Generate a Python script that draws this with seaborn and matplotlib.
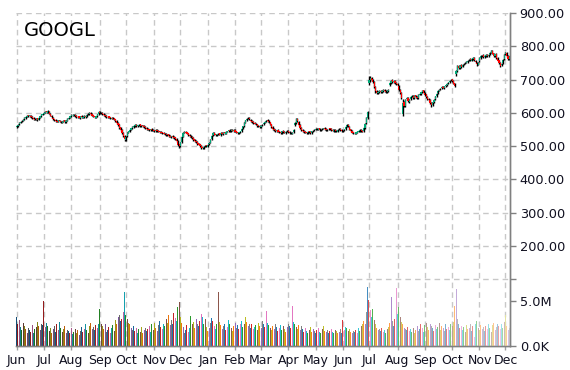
import numpy as np
import pandas as pd
import seaborn as sns
import matplotlib.pyplot as plt

ticker = 'GOOGL'

month_labels = ['Jun', 'Jul', 'Aug', 'Sep', 'Oct', 'Nov', 'Dec', 'Jan', 'Feb', 'Mar',
                'Apr', 'May', 'Jun', 'Jul', 'Aug', 'Sep', 'Oct', 'Nov', 'Dec']
month_pos = [0, 21, 42, 64, 84, 106, 126, 147, 168, 188, 209, 230, 251, 271, 293, 314, 335, 356, 376]

price_ticks = [100, 200, 300, 400, 500, 600, 700, 800, 900]
vol_ticks = [0.0, 5.0]
vol_tick_labels = ['0.0K', '5.0M']

# daily candles, Jun 2014 - Dec 2015
opens = [
    558, 562, 566, 571, 575, 577, 581, 586, 589, 593, 590, 592, 588, 585, 583, 580, 584, 580, 586, 591,
    595, 598, 601, 605, 601, 604, 597, 592, 586, 581, 580, 576, 574, 578, 575, 571, 574, 578, 572, 577,
    583, 586, 591, 595, 592, 594, 591, 587, 590, 585, 591, 586, 588, 592, 589, 596, 596, 601, 597, 593,
    590, 586, 591, 597, 603, 601, 600, 598, 595, 591, 587, 590, 587, 583, 586, 584, 581, 576, 571, 566,
    557, 550, 541, 532, 520, 530, 541, 544, 550, 555, 557, 561, 565, 560, 562, 566, 560, 563, 561, 558,
    556, 553, 551, 548, 552, 549, 548, 545, 550, 547, 545, 544, 542, 541, 539, 537, 533, 536, 532, 528,
    531, 528, 527, 522, 516, 506, 501, 513, 529, 541, 544, 542, 539, 535, 531, 529, 526, 521, 517, 513,
    509, 506, 501, 497, 494, 500, 503, 499, 506, 511, 521, 533, 541, 536, 533, 537, 539, 534, 541, 537,
    542, 538, 544, 546, 549, 545, 550, 546, 550, 545, 542, 539, 543, 546, 553, 561, 571, 579, 584, 586,
    580, 577, 573, 571, 569, 566, 562, 561, 557, 563, 566, 571, 575, 579, 577, 572, 566, 559, 553, 550,
    545, 549, 545, 543, 539, 546, 544, 540, 545, 547, 543, 541, 538, 542, 565, 571, 583, 574, 564, 556,
    550, 547, 544, 542, 539, 545, 543, 539, 546, 548, 550, 553, 550, 554, 548, 551, 553, 555, 552, 548,
    551, 554, 552, 549, 546, 550, 547, 544, 551, 553, 549, 545, 548, 552, 559, 565, 559, 551, 546, 542,
    541, 538, 541, 544, 546, 550, 547, 545, 556, 569, 586, 690, 698, 706, 701, 692, 679, 667, 660, 662,
    667, 663, 666, 669, 666, 662, 666, 684, 691, 698, 692, 696, 691, 687, 682, 669, 660, 598, 632, 620,
    641, 646, 634, 641, 649, 651, 645, 653, 649, 644, 655, 657, 663, 668, 661, 656, 649, 643, 639, 631,
    624, 633, 641, 651, 659, 667, 671, 674, 679, 675, 681, 684, 689, 693, 698, 701, 696, 689, 718, 726,
    741, 736, 743, 739, 746, 749, 751, 753, 758, 761, 757, 763, 766, 757, 751, 745, 755, 766, 771, 773,
    767, 770, 775, 771, 776, 781, 787, 779, 771, 777, 766, 758, 751, 743, 749, 762, 776, 781, 771, 762,
]
highs = [
    563, 567, 572, 576, 579, 582, 587, 590, 594, 595, 595, 594, 590, 587, 585, 585, 586, 587, 592, 598,
    599, 602, 606, 607, 608, 606, 599, 594, 588, 583, 582, 578, 580, 580, 577, 576, 579, 580, 578, 584,
    587, 592, 596, 597, 596, 596, 593, 591, 592, 592, 593, 591, 593, 594, 597, 599, 603, 603, 599, 595,
    592, 592, 598, 605, 606, 603, 602, 600, 597, 593, 591, 592, 589, 587, 588, 586, 583, 578, 573, 568,
    559, 552, 543, 534, 531, 542, 547, 551, 556, 560, 564, 566, 567, 565, 567, 568, 564, 565, 563, 560,
    558, 555, 553, 553, 554, 551, 550, 551, 552, 549, 547, 546, 544, 543, 541, 539, 537, 538, 534, 532,
    533, 530, 529, 524, 518, 508, 514, 530, 542, 546, 546, 544, 541, 537, 533, 531, 528, 523, 519, 515,
    511, 508, 503, 499, 501, 504, 505, 507, 512, 522, 534, 543, 543, 538, 538, 540, 541, 542, 543, 543,
    544, 545, 547, 550, 551, 551, 552, 551, 552, 547, 544, 544, 547, 554, 562, 572, 580, 585, 588, 588,
    582, 579, 575, 573, 571, 568, 564, 563, 564, 567, 572, 576, 580, 581, 579, 574, 568, 561, 555, 552,
    550, 551, 547, 545, 547, 548, 546, 546, 548, 549, 545, 543, 543, 552, 573, 586, 585, 576, 566, 558,
    552, 549, 546, 544, 546, 547, 545, 547, 549, 551, 554, 555, 555, 556, 552, 554, 556, 557, 554, 552,
    555, 556, 554, 551, 551, 552, 549, 552, 554, 555, 551, 549, 553, 560, 567, 568, 561, 553, 548, 544,
    543, 544, 547, 549, 551, 552, 549, 557, 570, 588, 606, 712, 712, 708, 703, 695, 681, 669, 665, 668,
    670, 669, 671, 671, 668, 669, 671, 694, 700, 701, 698, 699, 694, 690, 685, 672, 662, 641, 636, 643,
    648, 649, 642, 650, 653, 653, 654, 655, 651, 656, 660, 664, 669, 670, 663, 658, 651, 645, 641, 633,
    634, 642, 652, 660, 668, 672, 675, 680, 681, 682, 685, 690, 694, 699, 703, 703, 698, 691, 730, 745,
    744, 745, 746, 747, 750, 753, 755, 760, 763, 764, 764, 768, 769, 760, 754, 752, 767, 773, 775, 776,
    773, 777, 777, 778, 783, 790, 789, 781, 778, 779, 768, 760, 753, 750, 762, 778, 783, 783, 773, 770,
]
lows = [
    555, 559, 564, 569, 572, 575, 579, 583, 587, 588, 588, 585, 582, 580, 578, 578, 577, 578, 584, 589,
    593, 596, 599, 600, 599, 596, 590, 585, 579, 577, 574, 572, 572, 573, 570, 569, 572, 571, 570, 575,
    581, 584, 589, 591, 590, 588, 586, 585, 584, 583, 585, 584, 586, 586, 587, 594, 594, 594, 590, 587,
    585, 584, 589, 595, 598, 597, 595, 592, 588, 586, 585, 584, 582, 581, 581, 578, 573, 567, 562, 552,
    546, 537, 527, 516, 517, 528, 539, 542, 548, 553, 555, 559, 559, 558, 560, 559, 558, 558, 555, 553,
    550, 548, 547, 546, 546, 545, 544, 543, 544, 542, 541, 539, 538, 536, 534, 532, 531, 529, 527, 526,
    525, 523, 519, 512, 502, 495, 499, 511, 527, 539, 539, 536, 532, 528, 526, 522, 517, 513, 509, 505,
    503, 498, 493, 491, 492, 498, 498, 497, 504, 509, 519, 531, 533, 532, 531, 535, 533, 532, 536, 535,
    537, 536, 542, 544, 544, 543, 545, 544, 542, 539, 538, 537, 541, 544, 551, 559, 569, 577, 582, 579,
    574, 570, 568, 566, 564, 559, 558, 555, 555, 561, 564, 569, 573, 574, 570, 563, 556, 550, 547, 544,
    543, 542, 540, 538, 537, 541, 539, 538, 543, 540, 538, 537, 536, 540, 562, 568, 573, 561, 553, 547,
    544, 541, 539, 538, 537, 540, 538, 537, 544, 546, 548, 549, 548, 547, 546, 549, 551, 549, 547, 546,
    549, 549, 546, 545, 544, 544, 543, 542, 549, 546, 544, 543, 546, 550, 557, 558, 548, 543, 539, 538,
    536, 536, 539, 542, 544, 544, 542, 543, 553, 566, 583, 683, 694, 697, 689, 675, 660, 657, 656, 659,
    661, 660, 663, 663, 660, 659, 663, 681, 688, 690, 689, 687, 683, 680, 665, 656, 642, 590, 618, 617,
    638, 632, 631, 639, 647, 643, 643, 646, 642, 642, 653, 655, 661, 658, 652, 645, 640, 637, 627, 618,
    622, 631, 639, 649, 657, 665, 669, 672, 674, 673, 679, 682, 687, 691, 696, 693, 686, 677, 712, 723,
    732, 733, 736, 737, 744, 747, 749, 751, 756, 755, 755, 760, 756, 749, 740, 743, 752, 763, 768, 765,
    765, 768, 767, 769, 774, 779, 776, 769, 769, 763, 755, 747, 738, 741, 747, 760, 774, 768, 760, 760,
]
closes = [
    561, 565, 570, 574, 576, 580, 585, 588, 592, 590, 593, 587, 584, 582, 580, 583, 579, 585, 590, 596,
    597, 600, 604, 602, 605, 598, 592, 587, 581, 579, 576, 574, 578, 575, 572, 574, 577, 573, 576, 582,
    585, 590, 594, 593, 594, 590, 588, 589, 586, 590, 587, 589, 591, 588, 595, 597, 600, 596, 592, 589,
    587, 590, 596, 602, 600, 599, 597, 594, 590, 588, 589, 586, 584, 585, 583, 580, 575, 570, 565, 556,
    549, 540, 530, 522, 528, 540, 545, 549, 554, 558, 562, 564, 561, 563, 565, 561, 562, 560, 557, 555,
    552, 550, 549, 551, 548, 547, 546, 549, 546, 544, 543, 541, 540, 538, 536, 534, 535, 531, 529, 530,
    527, 526, 522, 515, 505, 500, 512, 528, 540, 543, 541, 538, 534, 530, 528, 525, 520, 516, 512, 508,
    505, 500, 496, 495, 499, 502, 500, 505, 510, 520, 532, 540, 535, 534, 536, 538, 535, 540, 538, 541,
    539, 543, 545, 548, 546, 549, 547, 549, 544, 541, 540, 542, 545, 552, 560, 570, 578, 583, 585, 581,
    576, 572, 570, 568, 566, 561, 560, 558, 562, 565, 570, 574, 578, 576, 572, 565, 558, 552, 549, 546,
    548, 544, 542, 540, 545, 543, 541, 544, 546, 542, 540, 539, 541, 550, 570, 582, 575, 563, 555, 549,
    546, 543, 541, 540, 544, 542, 540, 545, 547, 549, 552, 551, 553, 549, 550, 552, 554, 551, 549, 550,
    553, 551, 548, 547, 549, 546, 545, 550, 552, 548, 546, 547, 551, 558, 564, 560, 550, 545, 541, 540,
    539, 542, 545, 547, 549, 546, 544, 555, 568, 585, 603, 699, 705, 700, 693, 678, 665, 661, 663, 666,
    664, 667, 668, 665, 663, 667, 669, 690, 697, 693, 695, 690, 686, 683, 668, 660, 645, 630, 622, 640,
    645, 635, 640, 648, 650, 646, 652, 648, 645, 654, 658, 662, 667, 660, 655, 648, 642, 640, 630, 625,
    632, 640, 650, 658, 666, 670, 673, 678, 676, 680, 683, 688, 692, 697, 700, 695, 688, 680, 725, 740,
    735, 742, 738, 745, 748, 750, 752, 757, 760, 758, 762, 765, 758, 752, 746, 750, 765, 770, 772, 768,
    771, 774, 770, 775, 780, 786, 778, 772, 776, 765, 757, 750, 742, 748, 760, 775, 780, 770, 763, 767,
]
# volume in millions of shares
volume_m = [
    3.2, 2.4, 2.9, 2.1, 1.8, 2.6, 2.2, 1.9, 1.5, 2.0, 1.8, 1.6, 2.3, 1.4, 1.9, 2.1, 2.7, 2.2, 1.8, 2.5,
    2.3, 5.0, 2.1, 2.6, 2.2, 1.7, 2.0, 1.5, 1.9, 2.2, 1.6, 2.4, 1.8, 2.7, 2.0, 1.6, 1.9, 2.2, 1.5, 1.8,
    1.7, 1.4, 2.0, 1.3, 1.6, 1.9, 1.5, 1.8, 1.2, 1.7, 2.1, 1.6, 1.9, 2.4, 1.8, 1.5, 2.2, 2.6, 1.9, 2.1,
    1.8, 2.3, 2.0, 2.5, 4.1, 2.4, 2.2, 1.9, 2.5, 1.6, 1.8, 2.1, 1.5, 2.0, 2.3, 1.7, 2.9, 2.4, 3.2, 3.5,
    2.8, 3.0, 3.8, 6.0, 3.4, 3.0, 2.6, 2.4, 2.0, 1.8, 2.2, 1.7, 2.0, 1.5, 1.9, 1.6, 2.1, 1.4, 1.8, 2.0,
    1.7, 1.9, 2.2, 1.6, 2.4, 1.8, 2.6, 2.0, 1.7, 2.3, 2.8, 2.1, 1.9, 2.5, 2.2, 3.0, 2.6, 3.4, 2.3, 2.9,
    2.5, 3.7, 3.1, 2.8, 4.3, 4.9, 3.2, 2.6, 2.1, 1.4, 1.8, 2.3, 1.6, 2.0, 3.3, 2.4, 2.7, 2.0, 3.0, 2.5,
    2.2, 2.8, 3.6, 3.2, 2.4, 3.0, 2.1, 1.7, 2.0, 2.6, 3.1, 2.8, 2.2, 1.9, 2.4, 6.0, 2.7, 2.3, 1.9, 2.2,
    2.5, 1.8, 2.1, 2.9, 2.4, 2.0, 1.7, 2.2, 2.6, 2.0, 2.3, 1.9, 2.5, 2.8, 2.1, 2.4, 3.2, 2.7, 2.2, 2.5,
    2.0, 2.4, 1.9, 2.1, 2.3, 1.8, 2.6, 2.2, 2.0, 2.8, 2.4, 2.1, 3.9, 2.6, 2.3, 2.0, 1.8, 2.2, 1.9, 2.4,
    2.1, 1.7, 2.0, 2.3, 1.8, 2.2, 1.9, 1.6, 2.1, 2.5, 2.2, 2.0, 4.5, 2.7, 2.4, 2.1, 1.9, 2.3, 1.8, 2.2,
    1.9, 1.6, 2.0, 1.7, 1.5, 1.8, 2.1, 1.6, 1.9, 1.7, 1.4, 1.8, 2.0, 1.6, 1.5, 1.9, 2.2, 1.7, 1.6, 1.8,
    1.5, 1.7, 1.9, 1.6, 1.4, 1.8, 1.7, 1.5, 1.6, 1.9, 1.4, 2.9, 1.8, 2.1, 2.0, 1.7, 1.9, 1.6, 1.5, 1.7,
    1.6, 1.8, 1.5, 2.0, 1.7, 2.2, 2.5, 2.8, 2.4, 3.8, 6.6, 5.1, 4.0, 3.2, 4.1, 2.9, 2.4, 2.0, 1.8, 1.9,
    1.7, 2.0, 1.6, 1.8, 1.5, 1.9, 2.1, 2.6, 5.4, 2.8, 2.2, 3.0, 6.5, 3.6, 4.3, 3.2, 2.7, 2.4, 2.0, 1.9,
    1.8, 2.1, 1.7, 1.9, 1.6, 2.0, 1.5, 1.8, 2.2, 1.7, 1.9, 2.4, 2.0, 1.6, 2.3, 2.6, 2.1, 1.8, 2.5, 2.2,
    2.0, 1.7, 2.3, 1.9, 2.1, 2.6, 1.8, 2.2, 2.0, 1.7, 2.4, 1.9, 2.1, 1.8, 2.5, 2.2, 2.7, 4.5, 6.3, 3.0,
    2.4, 2.0, 2.2, 1.8, 2.1, 1.6, 2.3, 1.9, 2.0, 2.5, 1.7, 2.2, 1.0, 2.4, 2.8, 2.0, 1.8, 2.3, 1.9, 2.1,
    1.7, 2.2, 1.9, 2.4, 2.0, 1.6, 2.3, 2.6, 1.8, 2.1, 2.5, 2.2, 1.9, 2.4, 2.0, 2.7, 3.4, 2.2, 1.8, 2.0,
]

df = pd.DataFrame({'open': opens, 'high': highs, 'low': lows, 'close': closes, 'volume': volume_m})
df['day'] = np.arange(len(df))
df['up'] = df['close'] >= df['open']

sns.set_theme(style='white')
plt.rcParams['font.family'] = ['DejaVu Sans']

fig = plt.figure(figsize=(5.7, 3.7), dpi=100)
ax = fig.add_axes([16 / 570, 24 / 370, 494 / 570, 333 / 370])

# volume colours: cycling palette, darker at the start, washed out at the end
base = sns.color_palette('tab10', 10)
n = len(df)
vol_colors = []
for i in range(n):
    t = i / (n - 1)
    c = np.array(base[(i * 3) % 10])
    dark = max(0.0, (0.4 - t) / 0.4) * 0.35
    light = min(1.0, max(0.0, (t - 0.6) / 0.4)) * 0.6
    c = c * (1 - dark)
    c = c * (1 - light) + light
    vol_colors.append(tuple(c))

axv = ax.twinx()
axv.bar(df['day'], df['volume'], width=0.8, color=vol_colors, lw=0)

# candles
ax.vlines(df['day'], df['low'], df['high'], color='black', lw=1.0, zorder=3)
body_bottom = df[['open', 'close']].min(axis=1)
body_height = (df['close'] - df['open']).abs().clip(lower=1.0)
candle_colors = np.where(df['up'], '#00a878', '#ff0000')
ax.bar(df['day'], body_height, bottom=body_bottom, width=0.9, color=candle_colors, lw=0, zorder=4)

ax.set_xlim(-0.5, n - 0.5)
axv.set_xlim(-0.5, n - 0.5)
ax.set_ylim(-100, 900)
axv.set_ylim(0, 37.0)

grid_kw = dict(color='#c8c8c8', lw=1, linestyle=(0, (4, 3)))
ax.grid(True, axis='both', **grid_kw)
axv.grid(False)
ax.set_axisbelow(True)

ax.set_xticks(month_pos)
ax.set_xticklabels(month_labels)
ax.yaxis.tick_right()
ax.set_yticks(price_ticks)
ax.set_yticklabels(['' if v == 100 else f'{v:.2f}' for v in price_ticks])
axv.set_yticks(vol_ticks)
axv.set_yticklabels(vol_tick_labels)

for a in (ax, axv):
    for s in ('top', 'left'):
        a.spines[s].set_visible(False)
    for s in ('right', 'bottom'):
        a.spines[s].set_color('#808080')
        a.spines[s].set_linewidth(1)
    a.set_xlabel('')
    a.set_ylabel('')
    a.tick_params(axis='y', which='both', right=True, left=False, length=4, width=1,
                  color='#808080', labelsize=9.3, labelcolor='#101020', pad=3)
ax.tick_params(axis='x', bottom=True, length=3, width=1, color='#a0a0a0',
               labelsize=9, labelcolor='#101020', pad=3)

fig.text(24 / 570, 1 - 21 / 370, ticker, fontsize=14, ha='left', va='top', color='black')

fig.savefig('out.png', dpi=100)
